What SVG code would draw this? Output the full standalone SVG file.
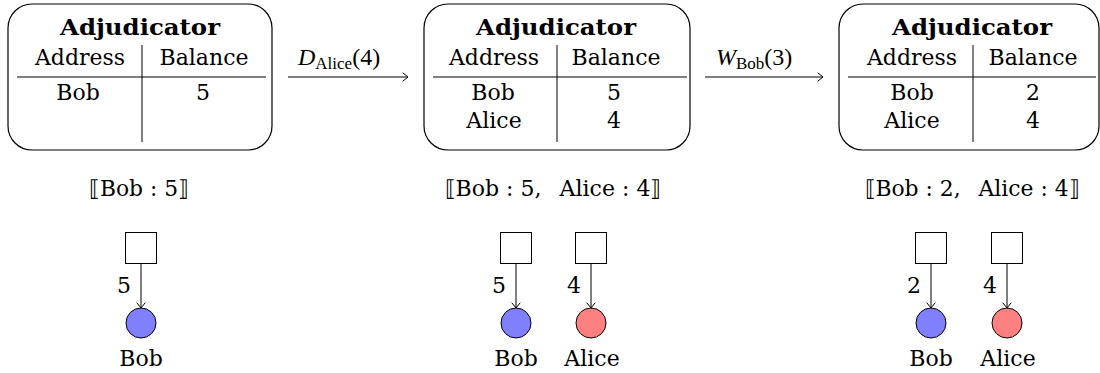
<svg xmlns="http://www.w3.org/2000/svg" width="1100" height="373" viewBox="0 0 1100 373" font-family="'DejaVu Serif', serif">
<style>
text{font-family:'DejaVu Serif',serif;font-size:22px;fill:#000}
.box{fill:#fff;stroke:#000;stroke-width:1.2}
.ln{stroke:#000;stroke-width:1;fill:none}
.sq{fill:#fff;stroke:#000;stroke-width:1}
.blue{fill:#8080ff;stroke:#000;stroke-width:1}
.red{fill:#ff8080;stroke:#000;stroke-width:1}
</style>
<defs>
<marker id="to" markerUnits="userSpaceOnUse" viewBox="-7 -6 9 12" refX="0" refY="0" markerWidth="9" markerHeight="12" orient="auto" overflow="visible">
<path d="M-5,-4 Q-1.2,-1 0,0 Q-1.2,1 -5,4" fill="none" stroke="#000" stroke-width="1" stroke-linecap="round"/>
</marker>
</defs>
<rect width="1100" height="373" fill="#fff"/>

<g id="adj1">
<rect class="box" x="8" y="4" width="264" height="146" rx="24"/>
<text text-anchor="middle" font-weight="bold" x="140" y="35" textLength="160" lengthAdjust="spacingAndGlyphs">Adjudicator</text>
<text text-anchor="middle" x="80" y="65" textLength="90" lengthAdjust="spacingAndGlyphs">Address</text>
<text text-anchor="middle" x="204" y="65" textLength="89" lengthAdjust="spacingAndGlyphs">Balance</text>
<line class="ln" x1="17" y1="77" x2="266" y2="77"/>
<line class="ln" x1="142" y1="45" x2="142" y2="142"/>
<text text-anchor="middle" x="78" y="100">Bob</text>
<text text-anchor="middle" x="203" y="100">5</text>
</g>

<g id="adj2">
<rect class="box" x="424" y="4" width="266" height="146" rx="24"/>
<text text-anchor="middle" font-weight="bold" x="556" y="35" textLength="160" lengthAdjust="spacingAndGlyphs">Adjudicator</text>
<text text-anchor="middle" x="494" y="65" textLength="90" lengthAdjust="spacingAndGlyphs">Address</text>
<text text-anchor="middle" x="616" y="65" textLength="89" lengthAdjust="spacingAndGlyphs">Balance</text>
<line class="ln" x1="433" y1="77" x2="687" y2="77"/>
<line class="ln" x1="557" y1="45" x2="557" y2="142"/>
<text text-anchor="middle" x="493" y="100">Bob</text>
<text text-anchor="middle" x="614" y="100">5</text>
<text text-anchor="middle" x="494" y="128">Alice</text>
<text text-anchor="middle" x="614" y="128">4</text>
</g>

<g id="adj3">
<rect class="box" x="839" y="4" width="260" height="146" rx="24"/>
<text text-anchor="middle" font-weight="bold" x="972" y="35" textLength="160" lengthAdjust="spacingAndGlyphs">Adjudicator</text>
<text text-anchor="middle" x="912" y="65" textLength="90" lengthAdjust="spacingAndGlyphs">Address</text>
<text text-anchor="middle" x="1033" y="65" textLength="89" lengthAdjust="spacingAndGlyphs">Balance</text>
<line class="ln" x1="848" y1="77" x2="1096" y2="77"/>
<line class="ln" x1="973" y1="45" x2="973" y2="142"/>
<text text-anchor="middle" x="912" y="100">Bob</text>
<text text-anchor="middle" x="1033" y="100">2</text>
<text text-anchor="middle" x="912" y="128">Alice</text>
<text text-anchor="middle" x="1033" y="128">4</text>
</g>

<g id="connectors">
<line class="ln" x1="288" y1="77" x2="408" y2="77" marker-end="url(#to)"/>
<text x="298" y="65" style="font-family:'Liberation Serif',serif;font-size:24px"><tspan font-style="italic">D</tspan><tspan font-size="17" dy="4">Alice</tspan><tspan dy="-4">(4)</tspan></text>
<line class="ln" x1="705" y1="77" x2="823" y2="77" marker-end="url(#to)"/>
<text x="716" y="65" style="font-family:'Liberation Serif',serif;font-size:24px"><tspan font-style="italic">W</tspan><tspan font-size="17" dy="4">Bob</tspan><tspan dy="-4">(3)</tspan></text>
<line class="ln" x1="141" y1="263" x2="141" y2="308" marker-end="url(#to)"/>
<line class="ln" x1="516" y1="263" x2="516" y2="308" marker-end="url(#to)"/>
<line class="ln" x1="591" y1="263" x2="591" y2="308" marker-end="url(#to)"/>
<line class="ln" x1="931" y1="263" x2="931" y2="308" marker-end="url(#to)"/>
<line class="ln" x1="1007" y1="263" x2="1007" y2="308" marker-end="url(#to)"/>
<text text-anchor="end" x="131" y="293">5</text>
<text text-anchor="end" x="506" y="293">5</text>
<text text-anchor="end" x="581" y="293">4</text>
<text text-anchor="end" x="921" y="293">2</text>
<text text-anchor="end" x="997" y="293">4</text>
</g>

<g id="state1">
<text text-anchor="middle" x="139" y="196" textLength="100" lengthAdjust="spacingAndGlyphs">⟦Bob : 5⟧</text>
</g>
<g id="state2">
<text text-anchor="middle" x="553" y="196" textLength="217" lengthAdjust="spacingAndGlyphs">⟦Bob : 5,&#8194; Alice : 4⟧</text>
</g>
<g id="state3">
<text text-anchor="middle" x="972" y="196" textLength="215" lengthAdjust="spacingAndGlyphs">⟦Bob : 2,&#8194; Alice : 4⟧</text>
</g>

<g id="g1-src"><rect class="sq" x="125.5" y="232.5" width="31" height="31"/></g>
<g id="g1-bob"><circle class="blue" cx="141" cy="323" r="15"/><text text-anchor="middle" x="141" y="366">Bob</text></g>

<g id="g2-src1"><rect class="sq" x="500.5" y="232.5" width="31" height="31"/></g>
<g id="g2-src2"><rect class="sq" x="575.5" y="232.5" width="31" height="31"/></g>
<g id="g2-bob"><circle class="blue" cx="516" cy="323" r="15"/><text text-anchor="middle" x="516" y="366">Bob</text></g>
<g id="g2-alice"><circle class="red" cx="591" cy="323" r="15"/><text text-anchor="middle" x="592" y="366">Alice</text></g>

<g id="g3-src1"><rect class="sq" x="915.5" y="232.5" width="31" height="31"/></g>
<g id="g3-src2"><rect class="sq" x="991.5" y="232.5" width="31" height="31"/></g>
<g id="g3-bob"><circle class="blue" cx="931" cy="323" r="15"/><text text-anchor="middle" x="931" y="366">Bob</text></g>
<g id="g3-alice"><circle class="red" cx="1007" cy="323" r="15"/><text text-anchor="middle" x="1008" y="366">Alice</text></g>
</svg>
